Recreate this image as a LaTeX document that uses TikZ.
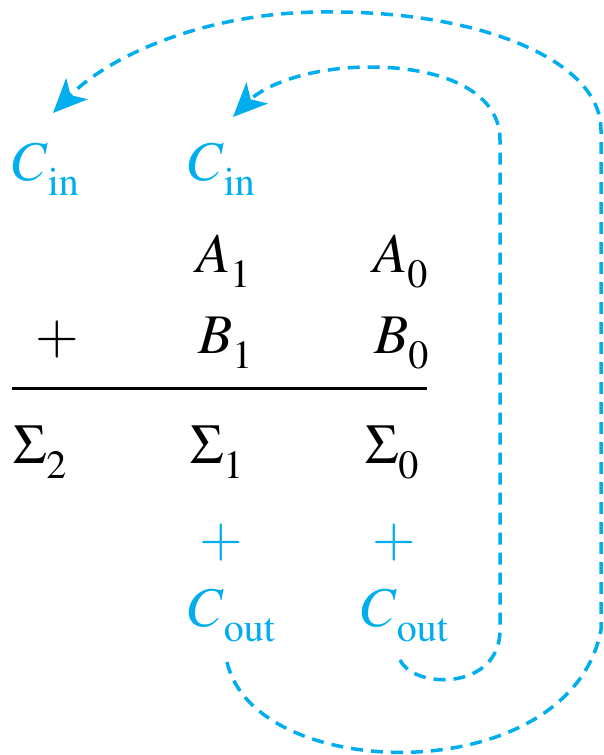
\documentclass[tikz,border=0pt]{standalone}
\usepackage[T1]{fontenc}
\usepackage{mathptmx}
\usetikzlibrary{arrows.meta}
\definecolor{cyanb}{RGB}{0,174,239}
\newcommand{\msize}{\fontsize{56}{60}\selectfont}
\newcommand{\ssz}[1]{\raisebox{-15pt}{\fontsize{40}{40}\selectfont #1}}
\begin{document}
\begin{tikzpicture}[x=1pt,y=-1pt,
  lbl/.style={inner sep=0pt, anchor=base west, font=\msize},
  pls/.style={inner sep=0pt, anchor=base, font=\msize},
  blu/.style={text=cyanb},
  loopline/.style={draw=cyanb, line width=3.5pt, dash pattern=on 12pt off 8pt},
  tipend/.style={-{Stealth[length=34pt,width=30pt,inset=9pt]}}]
\useasboundingbox (0,0) rectangle (604,755);
% top row
\node[lbl,blu] (cin1) at (9,180) {\textit{C}\ssz{in}};
\node[lbl,blu] (cin2) at (185,180) {\textit{C}\ssz{in}};
% operands
\node[lbl] (a1) at (196,272) {\textit{A}\ssz{1}};
\node[lbl] (a0) at (373,272) {\textit{A}\ssz{0}};
\node[pls] (plus) at (57,353) {$+$};
\node[lbl] (b1) at (198,353) {\textit{B}\ssz{1}};
\node[lbl] (b0) at (374,353) {\textit{B}\ssz{0}};
\coordinate (rl) at (12,388);
\coordinate (rr) at (427,388);
\draw[line width=3pt] (rl) -- (rr);
\node[lbl] (s2) at (13,463) {$\Sigma$\ssz{2}};
\node[lbl] (s1) at (190,463) {$\Sigma$\ssz{1}};
\node[lbl] (s0) at (365,463) {$\Sigma$\ssz{0}};
% carries
\node[pls,blu] (p1) at (221,556) {$+$};
\node[pls,blu] (p0) at (394,556) {$+$};
\node[lbl,blu] (cout1) at (185,626) {\textit{C}\ssz{out}};
\node[lbl,blu] (cout0) at (358,626) {\textit{C}\ssz{out}};
% loops
\coordinate (o1) at (227,662);
\coordinate (o2) at (53,113);
\coordinate (i1) at (400,660);
\coordinate (i2) at (233,117);
\draw[loopline,tipend] (o1) .. controls (255,785) and (570,790) .. (601,630)
  -- (601,130) .. controls (601,60) and (480,12) .. (333,12)
  .. controls (210,10) and (110,55) .. (o2);
\draw[loopline,tipend] (i1) .. controls (415,690) and (500,690) .. (500,630)
  -- (500,140) .. controls (500,90) and (440,67) .. (370,67)
  .. controls (310,67) and (265,85) .. (i2);
\end{tikzpicture}
\end{document}
